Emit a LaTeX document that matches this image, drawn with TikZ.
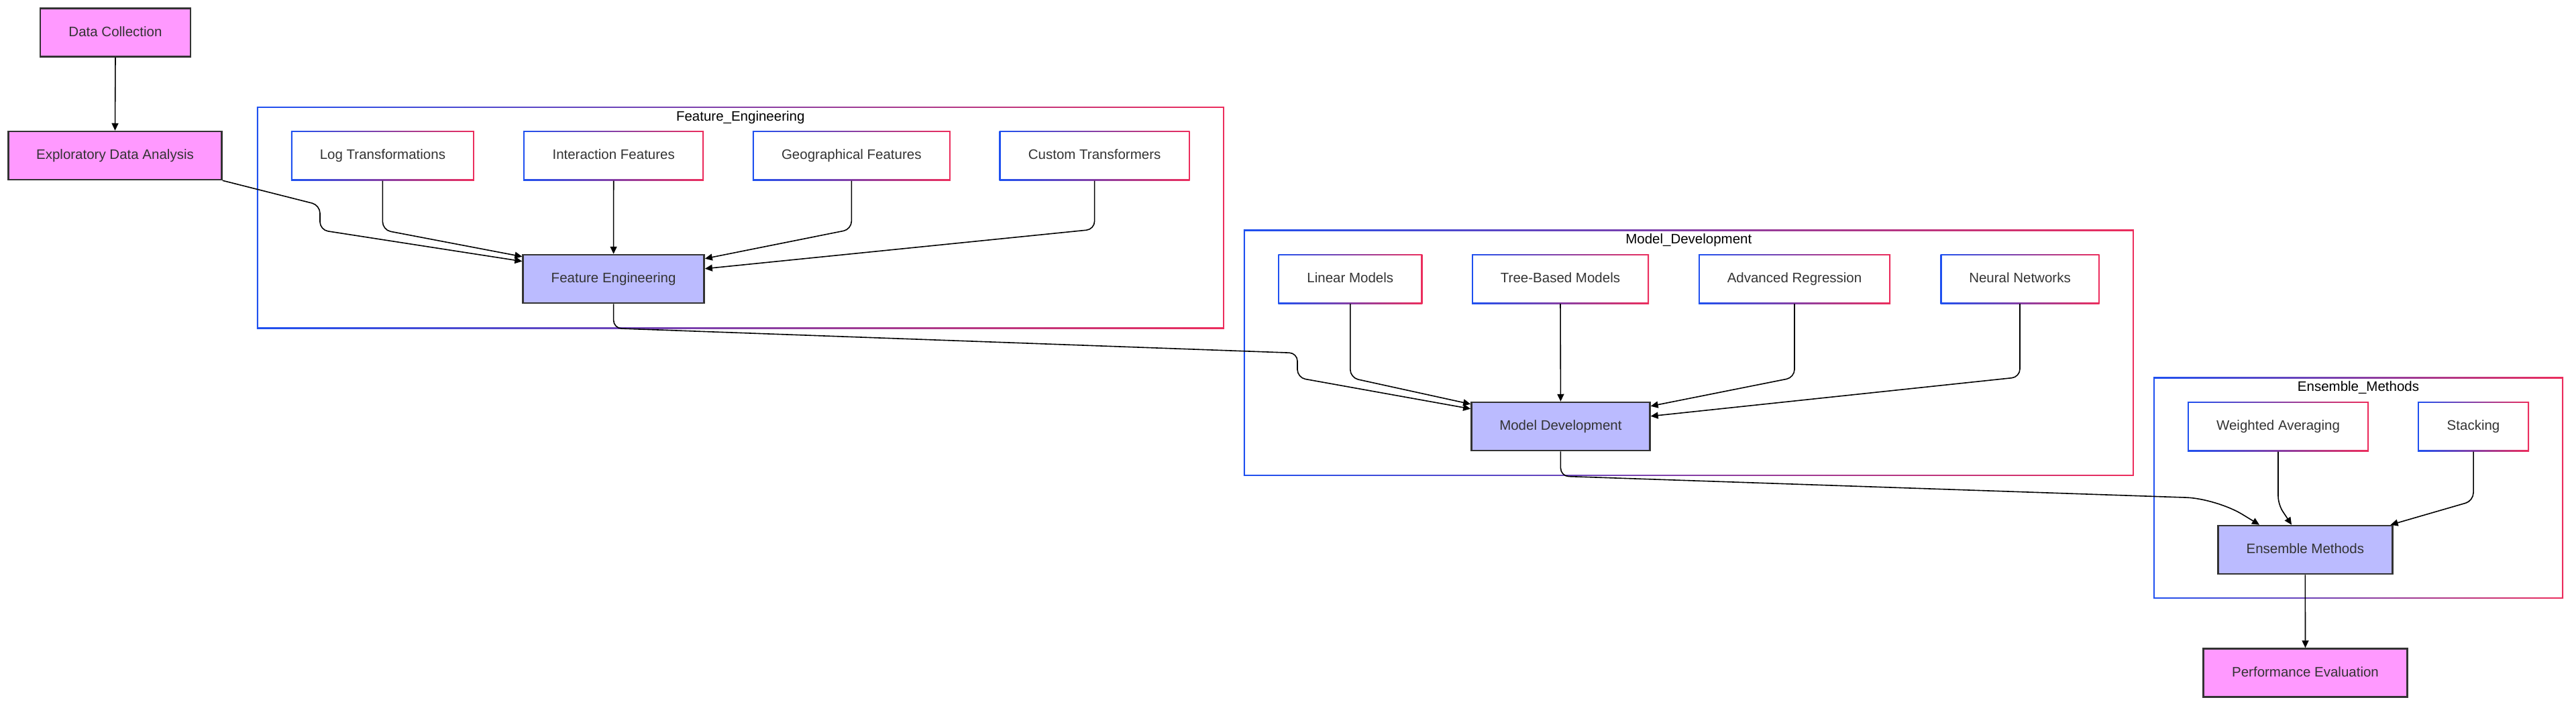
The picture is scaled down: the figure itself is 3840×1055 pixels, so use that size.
\documentclass[tikz,border=0pt]{standalone}
\usepackage{fontspec}
\setmainfont{Liberation Sans}
\usetikzlibrary{arrows.meta}
\definecolor{pinkfill}{HTML}{FF99FF}
\definecolor{bluefill}{HTML}{BBBBFF}
\definecolor{bd}{HTML}{333333}
\definecolor{txt}{HTML}{333333}
\definecolor{gblue}{HTML}{1E50F0}
\definecolor{gred}{HTML}{EC2D5C}
\newcommand{\nfont}{\fontsize{20.5}{24}\selectfont}
\tikzset{
  gradborder/.style={fill=white, path picture={
      \shade[left color=gblue, right color=gred]
        (path picture bounding box.south west) rectangle (path picture bounding box.north east);
      \fill[white] ([shift={(#1,-#1)}]path picture bounding box.north west)
        rectangle ([shift={(-#1,#1)}]path picture bounding box.south east);
    }},
  txtbox/.style={text height=14.5pt, text depth=3.5pt},
  subbox/.style={gradborder=2pt, minimum width=#1, minimum height=74pt, inner sep=0pt,
    text=txt, font=\nfont, txtbox},
  clusterbox/.style={gradborder=2.2pt, inner sep=0pt},
  ctitle/.style={text=black, font=\nfont, inner sep=0pt, txtbox},
  pinkbox/.style={draw=bd, line width=2.5pt, fill=pinkfill, minimum width=#1,
    minimum height=72pt, inner sep=0pt, text=txt, font=\nfont, txtbox},
  bluebox/.style={draw=bd, line width=2.5pt, fill=bluefill, minimum width=#1,
    minimum height=72pt, inner sep=0pt, text=txt, font=\nfont, txtbox},
  conn/.style={draw=black, line width=1.6pt, rounded corners=12pt,
    -{Triangle[length=11pt,width=10pt]}},
}
\begin{document}
\begin{tikzpicture}[x=1pt, y=-1pt]
\useasboundingbox (0,0) rectangle (3840,1055);
\fill[white] (0,0) rectangle (3840,1055);

% clusters
\node[clusterbox, minimum width=1442pt, minimum height=331pt] (fec) at (1103.75,324.5) {};
\node[ctitle] (fect) at (1103.75,175) {Feature\_Engineering};
\node[clusterbox, minimum width=1327pt, minimum height=367pt] (mdc) at (2517.3,526.4) {};
\node[ctitle] (mdct) at (2517.3,358) {Model\_Development};
\node[clusterbox, minimum width=611pt, minimum height=330pt] (emc) at (3515.5,727.9) {};
\node[ctitle] (emct) at (3515.5,578) {Ensemble\_Methods};

% main nodes
\node[pinkbox=224pt] (dc) at (172,48.5) {Data Collection};
\node[pinkbox=318pt] (eda) at (171.5,232) {Exploratory Data Analysis};
\node[bluebox=270pt] (fe) at (914.6,416) {Feature Engineering};
\node[bluebox=266pt] (md) at (2326.4,636) {Model Development};
\node[bluebox=260pt] (em) at (3436.3,820) {Ensemble Methods};
\node[pinkbox=304pt] (pe) at (3436.5,1003.5) {Performance Evaluation};

% sub nodes
\node[subbox=273pt] (log) at (570.4,232.3) {Log Transformations};
\node[subbox=269pt] (inter) at (914.7,232.3) {Interaction Features};
\node[subbox=295pt] (geo) at (1269.3,232.3) {Geographical Features};
\node[subbox=284pt] (cust) at (1631.6,232.3) {Custom Transformers};
\node[subbox=215pt] (lin) at (2012.8,416) {Linear Models};
\node[subbox=264pt] (tree) at (2326,416) {Tree-Based Models};
\node[subbox=286pt] (adv) at (2675,416) {Advanced Regression};
\node[subbox=237pt] (nn) at (3011,416) {Neural Networks};
\node[subbox=270pt] (wa) at (3396,636.3) {Weighted Averaging};
\node[subbox=166pt] (stk) at (3687,636.3) {Stacking};

% connectors
\draw[conn] (dc.south) -- (eda.north);
\draw[conn] (eda.south east) -- (477,306) -- (477,343) -- ([yshift=-11pt]fe.north west);
\draw[conn] (log.south) -- (570.4,343) -- ([yshift=-4pt]fe.north west);
\draw[conn] (inter.south) -- (fe.north);
\draw[conn] (geo.south) -- (1269.3,342) -- ([yshift=-7pt]fe.north east);
\draw[conn] (cust.south) -- (1631.6,342) -- ([yshift=-22pt]fe.north east);

\draw[conn] (fe.south) -- (914.6,489.6) -- (1934,526.6) -- (1934,563.3) -- ([yshift=-11pt]md.north west);
\draw[conn] (lin.south) -- (2012.8,563.4) -- ([yshift=-4pt]md.north west);
\draw[conn] (tree.south) -- (md.north);
\draw[conn] (adv.south) -- (2675,563) -- ([yshift=-7pt]md.north east);
\draw[conn] (nn.south) -- (3011,562.4) -- ([yshift=-22pt]md.north east);

\draw[conn] (md.south) -- (2326.4,710.2) [rounded corners=45pt] -- (3304,743.6) -- ([xshift=63pt]em.north west);
\draw[conn] (wa.south) -- (3396,752.4) -- ([xshift=111pt]em.north west);
\draw[conn] (stk.south) -- (3687,747) -- ([xshift=-4pt]em.north east);
\draw[conn] (em.south) -- (pe.north);
\end{tikzpicture}
\end{document}
